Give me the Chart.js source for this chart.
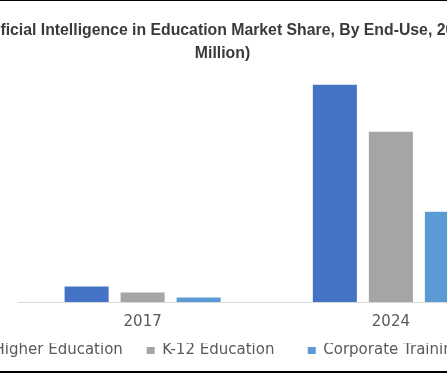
<!DOCTYPE html>
<html>
<head>
<meta charset="utf-8">
<script src="https://cdn.jsdelivr.net/npm/chart.js@4"></script>
<style>
  html, body { margin: 0; padding: 0; background: #fff; overflow: hidden; }
  body { width: 447px; height: 373px; position: relative; }
  #wrap { position: absolute; left: -70px; top: 0; width: 585px; height: 368.5px; }
  .rule { position: absolute; left: 0; width: 447px; background: #000; z-index: 2; }
</style>
</head>
<body>
<div id="wrap"><canvas id="marketChart" width="585" height="368"></canvas></div>
<div class="rule" style="top:0;height:1px"></div>
<div class="rule" style="top:371px;height:2px"></div>
<script>
// chart data (USD Million)
const years = ['2017', '2024'];
const higherEducation = [80, 1123];
const k12Education = [49, 880];
const corporateTraining = [23, 467];
const titleLines = ['Artificial Intelligence in Education Market Share, By End-Use, 2017', 'Million)'];

document.addEventListener('DOMContentLoaded', function() {
    const ctx = document.getElementById('marketChart').getContext('2d');

    // extra spacing around legend texts (box-to-text gap is fixed in Chart.js)
    const legendPads = [['  ', '     '], ['', '       '], ['', '   ']];

    new Chart(ctx, {
        type: 'bar',
        data: {
            labels: years,
            datasets: [{
                label: 'Higher Education',
                data: higherEducation,
                backgroundColor: '#4472C4'
            }, {
                label: 'K-12 Education',
                data: k12Education,
                backgroundColor: '#A5A5A5'
            }, {
                label: 'Corporate Training',
                data: corporateTraining,
                backgroundColor: '#5B9BD5'
            }]
        },
        options: {
            responsive: false,
            animation: false,
            categoryPercentage: 0.677,
            barPercentage: 0.786,
            layout: { padding: 0 },
            scales: {
                x: {
                    grid: { display: false, drawTicks: false },
                    border: { display: true, color: '#D9D9D9', width: 1 },
                    ticks: {
                        color: '#595959',
                        padding: 11.5,
                        font: { family: 'DejaVu Sans', size: 15 }
                    }
                },
                y: {
                    min: 0,
                    max: 1200,
                    grid: { display: false, drawTicks: false },
                    border: { display: false },
                    ticks: { display: false },
                    afterFit: function(scale) { scale.width = 88.5; }
                }
            },
            plugins: {
                title: {
                    display: true,
                    text: titleLines,
                    color: '#3a3a3a',
                    font: { family: 'Liberation Sans', size: 15.8, weight: 'bold', lineHeight: 1.41 },
                    padding: { top: 20, bottom: 5.4 }
                },
                legend: {
                    position: 'bottom',
                    labels: {
                        boxWidth: 8,
                        boxHeight: 7,
                        padding: 0,
                        color: '#595959',
                        font: { family: 'DejaVu Sans', size: 15 },
                        generateLabels: function(chart) {
                            const items = Chart.defaults.plugins.legend.labels.generateLabels(chart);
                            items.forEach(function(item, i) {
                                item.text = legendPads[i][0] + item.text + legendPads[i][1];
                            });
                            return items;
                        }
                    }
                },
                tooltip: { enabled: false }
            }
        }
    });
});
</script>
</body>
</html>
